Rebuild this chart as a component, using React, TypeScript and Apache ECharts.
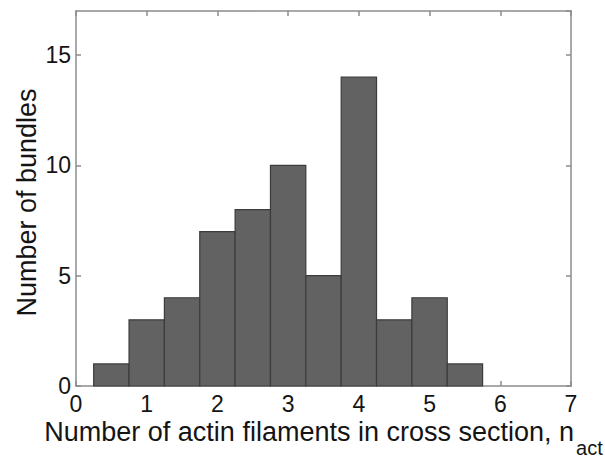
import React, { useEffect, useRef } from "react";
import * as echarts from "echarts";

// Histogram bins: left edge, right edge, count
const binStarts = [0.25, 0.75, 1.25, 1.75, 2.25, 2.75, 3.25, 3.75, 4.25, 4.75, 5.25];
const binEnds = [0.75, 1.25, 1.75, 2.25, 2.75, 3.25, 3.75, 4.25, 4.75, 5.25, 5.75];
const counts = [1, 3, 4, 7, 8, 10, 5, 14, 3, 4, 1];

const xTicks = [0, 1, 2, 3, 4, 5, 6, 7];
const yTicks = [0, 5, 10, 15];

const xTitleMain = "Number of actin filaments in cross section, n";
const xTitleSub = "act";
const yTitle = "Number of bundles";

const FONT = "'Liberation Sans', Arial, sans-serif";
const AXIS_GRAY = "#8c8c8c";
const TEXT = "#141414";

const GRID = { left: 76, top: 11, width: 495, height: 375 };
const MAIN_SIZE = 27;
const SUB_SIZE = 20;

function measure(text: string, size: number): number {
  const ctx = document.createElement("canvas").getContext("2d");
  if (!ctx) return text.length * size * 0.5;
  ctx.font = `${size}px ${FONT}`;
  return ctx.measureText(text).width;
}

export default function App() {
  const ref = useRef<HTMLDivElement>(null);

  useEffect(() => {
    if (!ref.current) return;
    const chart = echarts.init(ref.current, undefined, { renderer: "svg" });
    const data = counts.map((c, i) => [binStarts[i], binEnds[i], c]);

    const baseAxisLine = { show: true, onZero: false, lineStyle: { color: AXIS_GRAY, width: 1.5 } };
    const tick = { show: true, inside: true, length: 5, lineStyle: { color: AXIS_GRAY, width: 1.5 } };

    // x-axis title with a subscript, centred under the plot box
    const mainW = measure(xTitleMain, MAIN_SIZE);
    const subW = measure(xTitleSub, SUB_SIZE);
    const gap = 2;
    const titleLeft = GRID.left + GRID.width / 2 - (mainW + gap + subW) / 2;
    const mainBaseline = 441;
    const subBaseline = 455;

    chart.setOption({
      animation: false,
      backgroundColor: "#ffffff",
      grid: { ...GRID, containLabel: false, outerBoundsMode: "none" },
      xAxis: [
        {
          type: "value",
          min: 0,
          max: 7,
          interval: 1,
          position: "bottom",
          axisLine: baseAxisLine,
          axisTick: tick,
          splitLine: { show: false },
          axisLabel: {
            color: TEXT,
            fontSize: 23,
            fontFamily: FONT,
            margin: 6,
            formatter: (v: number) => (xTicks.includes(v) ? String(v) : ""),
          },
        },
        {
          type: "value",
          min: 0,
          max: 7,
          interval: 1,
          position: "top",
          axisLine: baseAxisLine,
          axisTick: tick,
          splitLine: { show: false },
          axisLabel: { show: false },
        },
      ],
      yAxis: [
        {
          type: "value",
          min: 0,
          max: 17,
          interval: 5,
          position: "left",
          axisLine: baseAxisLine,
          axisTick: tick,
          splitLine: { show: false },
          axisLabel: {
            color: TEXT,
            fontSize: 23,
            fontFamily: FONT,
            margin: 5,
            showMaxLabel: false,
            formatter: (v: number) => (yTicks.includes(v) ? String(v) : ""),
          },
          name: yTitle,
          nameLocation: "middle",
          nameMoveOverlap: false,
          nameGap: 36,
          nameTextStyle: { fontSize: MAIN_SIZE, fontFamily: FONT, color: TEXT, padding: [0, 8, 0, 0] },
        },
        {
          type: "value",
          min: 0,
          max: 17,
          interval: 5,
          position: "right",
          axisLine: baseAxisLine,
          axisTick: tick,
          splitLine: { show: false },
          axisLabel: { show: false },
        },
      ],
      graphic: [
        {
          type: "text",
          x: titleLeft,
          y: mainBaseline - MAIN_SIZE * 0.3465,
          style: {
            text: xTitleMain,
            fontSize: MAIN_SIZE,
            fontFamily: FONT,
            fill: TEXT,
            align: "left",
            verticalAlign: "middle",
          },
        },
        {
          type: "text",
          x: titleLeft + mainW + gap,
          y: subBaseline - SUB_SIZE * 0.3465,
          style: {
            text: xTitleSub,
            fontSize: SUB_SIZE,
            fontFamily: FONT,
            fill: TEXT,
            align: "left",
            verticalAlign: "middle",
          },
        },
      ],
      series: [
        {
          type: "custom",
          xAxisIndex: 0,
          yAxisIndex: 0,
          data,
          encode: { x: [0, 1], y: 2 },
          renderItem: (params: any, api: any) => {
            const p0 = api.coord([api.value(0), api.value(2)]);
            const p1 = api.coord([api.value(1), 0]);
            return {
              type: "rect",
              shape: { x: p0[0], y: p0[1], width: p1[0] - p0[0], height: p1[1] - p0[1] },
              style: { fill: "#626262", stroke: "#3c3c3c", lineWidth: 1.2 },
            };
          },
        },
      ],
    });

    return () => chart.dispose();
  }, []);

  return (
    <div
      ref={ref}
      style={{ position: "absolute", left: 0, top: 0, width: 605, height: 459 }}
    />
  );
}
